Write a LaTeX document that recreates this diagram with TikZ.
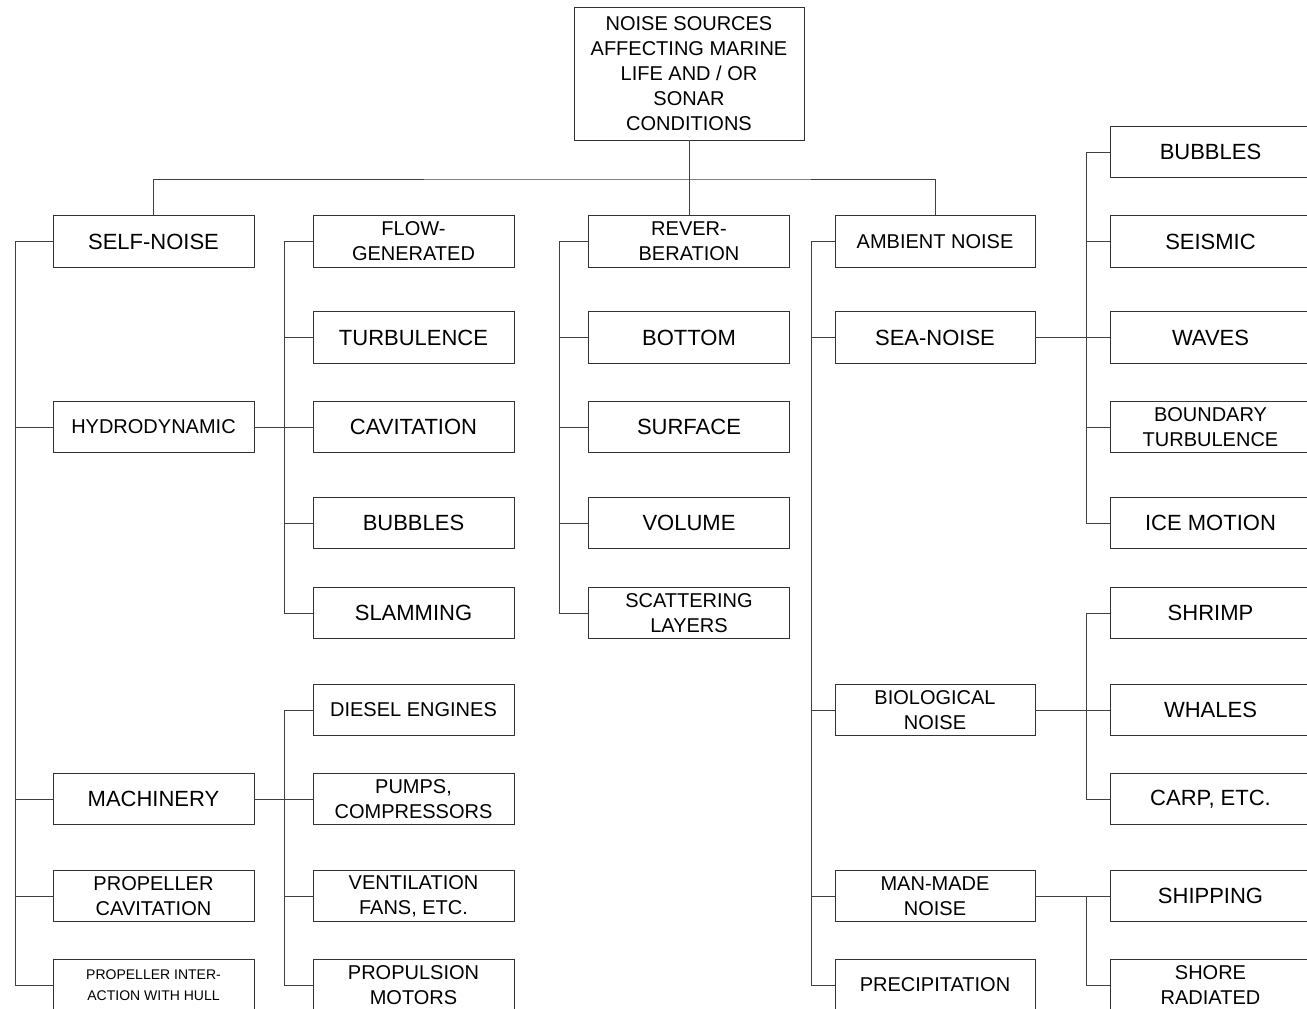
\documentclass[tikz,border=0pt]{standalone}
\usepackage{fontspec}
\setmainfont{Liberation Sans}
\begin{document}
\begin{tikzpicture}[x=1pt,y=-1pt,
  box/.style={draw=black!80,line width=0.9pt,minimum width=201pt,minimum height=51.5pt,inner sep=0pt,align=center,fill=white},
  big/.style={font=\fontsize{22}{26}\selectfont},
  med/.style={font=\fontsize{20}{25}\selectfont},
  sml/.style={font=\fontsize{14}{21}\selectfont},
  link/.style={draw=black!75,line width=0.9pt}]
\useasboundingbox (0,0) rectangle (1307,1009);
\clip (0,0) rectangle (1307,1009);
% top
\node[box,med,minimum width=230pt,minimum height=133pt] (top) at (689,73.5) {NOISE SOURCES\\AFFECTING MARINE\\LIFE AND / OR\\SONAR\\CONDITIONS};
% column 1
\node[box,big] (selfnoise) at (153.5,241.5) {SELF-NOISE};
\node[box,med] (hydro) at (153.5,427) {HYDRODYNAMIC};
\node[box,big] (mach) at (153.5,799) {MACHINERY};
\node[box,med] (propcav) at (153.5,896) {PROPELLER\\CAVITATION};
\node[box,sml] (propint) at (153.5,985) {PROPELLER INTER-\\ACTION WITH HULL};
% column 2
\node[box,med] (flow) at (413.5,241.5) {FLOW-\\GENERATED};
\node[box,big] (turb) at (413.5,337.5) {TURBULENCE};
\node[box,big] (cavit) at (413.5,427) {CAVITATION};
\node[box,big] (bubA) at (413.5,523) {BUBBLES};
\node[box,big] (slam) at (413.5,613) {SLAMMING};
\node[box,med] (diesel) at (413.5,710) {DIESEL ENGINES};
\node[box,med] (pumps) at (413.5,799) {PUMPS,\\COMPRESSORS};
\node[box,med] (vent) at (413.5,896) {VENTILATION\\FANS, ETC.};
\node[box,med] (propul) at (413.5,985) {PROPULSION\\MOTORS};
% column 3
\node[box,med] (reverb) at (689,241.5) {REVER-\\BERATION};
\node[box,big] (bottom) at (689,337.5) {BOTTOM};
\node[box,big] (surface) at (689,427) {SURFACE};
\node[box,big] (volume) at (689,523) {VOLUME};
\node[box,med] (scatter) at (689,613) {SCATTERING\\LAYERS};
% column 4
\node[box,med,minimum width=200pt] (ambient) at (935,241.5) {AMBIENT NOISE};
\node[box,big,minimum width=200pt] (sea) at (935,337.5) {SEA-NOISE};
\node[box,med,minimum width=200pt] (bio) at (935,710) {BIOLOGICAL\\NOISE};
\node[box,med,minimum width=200pt] (manmade) at (935,896) {MAN-MADE\\NOISE};
\node[box,med,minimum width=200pt] (precip) at (935,985) {PRECIPITATION};
% column 5
\node[box,big] (bubB) at (1210.5,152) {BUBBLES};
\node[box,big] (seismic) at (1210.5,241.5) {SEISMIC};
\node[box,big] (waves) at (1210.5,337.5) {WAVES};
\node[box,med] (boundary) at (1210.5,427) {BOUNDARY\\TURBULENCE};
\node[box,big] (ice) at (1210.5,523) {ICE MOTION};
\node[box,big] (shrimp) at (1210.5,613) {SHRIMP};
\node[box,big] (whales) at (1210.5,710) {WHALES};
\node[box,big] (carp) at (1210.5,799) {CARP, ETC.};
\node[box,big] (shipping) at (1210.5,896) {SHIPPING};
\node[box,med] (shore) at (1210.5,985) {SHORE\\RADIATED};
% connectors: top bus
\coordinate (bus) at (689,179);
\path[link] (top.south) -- (reverb.north);
\path[link] (selfnoise.north) |- (bus) -| (ambient.north);
% column 1 spine
\path[link] (selfnoise.west) -- ++(-37,0) |- (propint.west);
\foreach \n in {hydro,mach,propcav} \path[link] (\n.west) -- ++(-37,0);
% column 2 spines
\path[link] (hydro.east) -- (cavit.west);
\path[link] (flow.west) -- ++(-28,0) |- (slam.west);
\foreach \n in {turb,bubA} \path[link] (\n.west) -- ++(-28,0);
\path[link] (mach.east) -- (pumps.west);
\path[link] (diesel.west) -- ++(-28,0) |- (propul.west);
\path[link] (vent.west) -- ++(-28,0);
% column 3 spine
\path[link] (reverb.west) -- ++(-29,0) |- (scatter.west);
\foreach \n in {bottom,surface,volume} \path[link] (\n.west) -- ++(-29,0);
% column 4 spine
\path[link] (ambient.west) -- ++(-23,0) |- (precip.west);
\foreach \n in {sea,bio,manmade} \path[link] (\n.west) -- ++(-23,0);
% column 5 spines
\path[link] (sea.east) -- (waves.west);
\path[link] (bubB.west) -- ++(-23,0) |- (ice.west);
\foreach \n in {seismic,boundary} \path[link] (\n.west) -- ++(-23,0);
\path[link] (bio.east) -- (whales.west);
\path[link] (shrimp.west) -- ++(-23,0) |- (carp.west);
\path[link] (manmade.east) -- (shipping.west);
\path[link] (shipping.west) -- ++(-23,0) |- (shore.west);
\end{tikzpicture}
\end{document}
